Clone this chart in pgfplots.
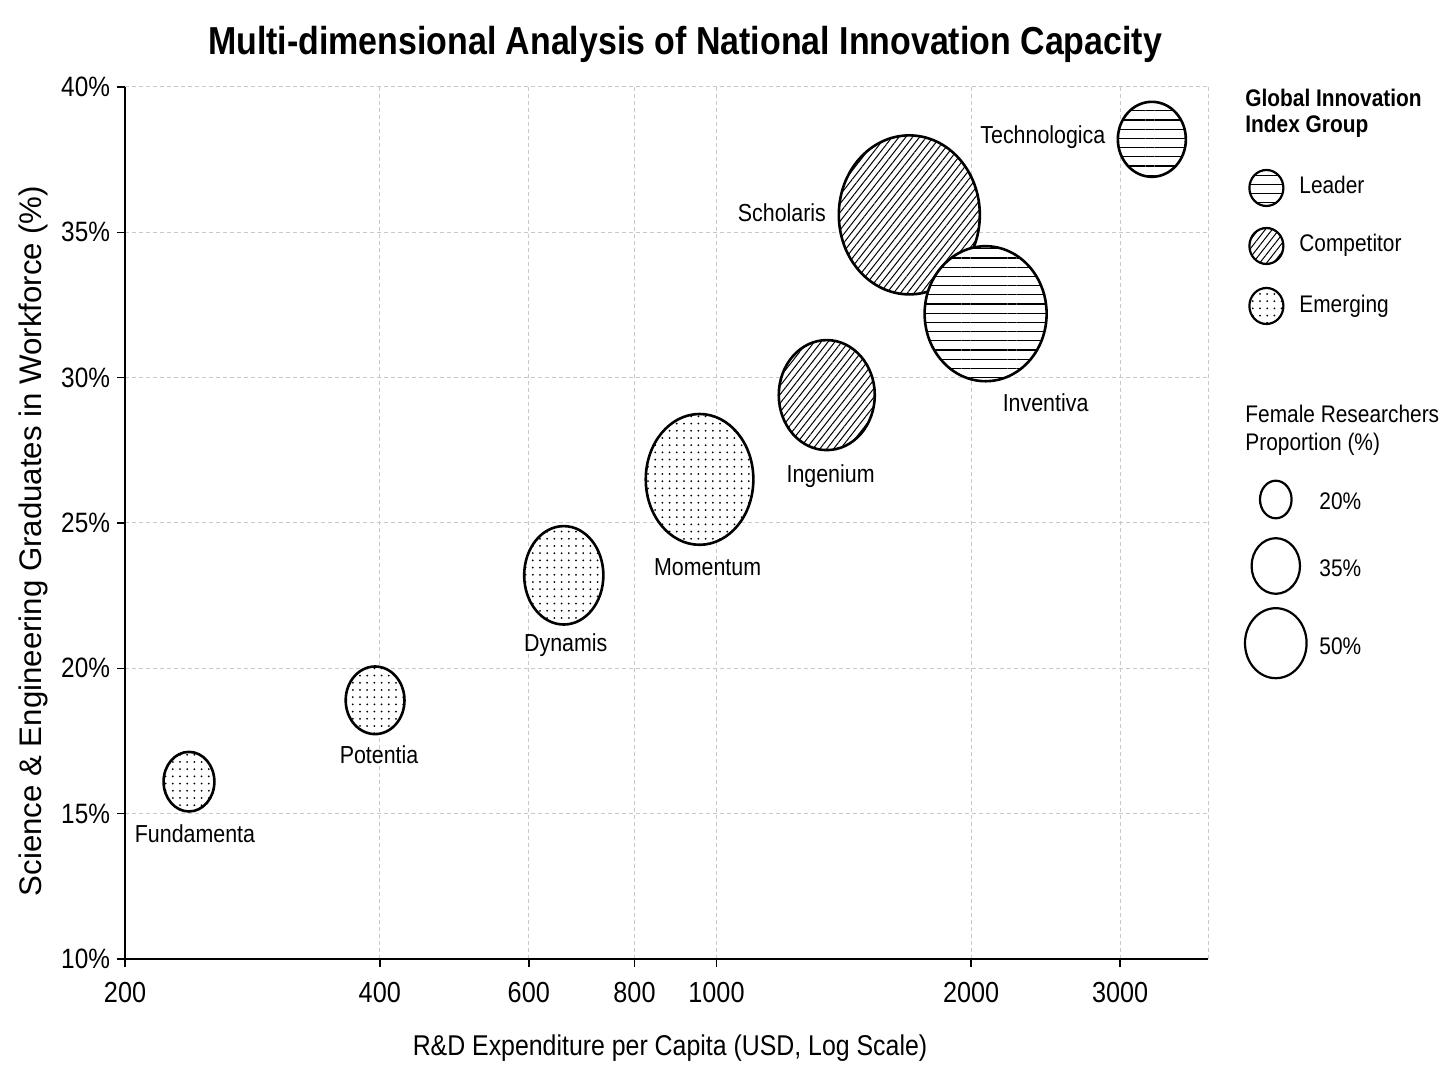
\documentclass[border=0pt]{standalone}
\usepackage{pgfplots}
\pgfplotsset{compat=1.18}
\usepackage{pgfplotstable}
\usetikzlibrary{patterns.meta}
\usepackage{fontspec}
\setmainfont{Liberation Sans}[FakeStretch=0.87]
\newfontfamily\ylabfont{Liberation Sans}
\newcommand\fs[1]{\fontsize{#1}{#1}\selectfont}
\definecolor{gridgray}{RGB}{200,200,200}

% R&D per capita (USD), S&E graduates (%), bubble half-axes (pt)
\pgfplotstableread{
x    y    rx    ry
238  16.1 12.7  14.9
395  18.9 14.7  16.9
660  23.2 19.8  24.6
955  26.5 26.9  32.7
}\emerging
\pgfplotstableread{
x    y    rx    ry
1350 29.4 24.0  27.5
1690 35.6 35.25 39.75
}\competitor
\pgfplotstableread{
x    y    rx    ry
2080 32.2 30.5  33.75
3270 38.2 17.0  18.75
}\leader

\tikzset{
  patL/.style={pattern={Lines[angle=0,distance=4.6pt,line width=0.65pt]},pattern color=black},
  patC/.style={pattern={Lines[angle=52,distance=2.7pt,line width=0.5pt]},pattern color=black},
  patE/.style={pattern={Dots[distance=3.6pt,radius=0.5pt]},pattern color=black},
  bub/.style={draw=black,line width=1.3pt},
  lab/.style={font=\fs{12.3},inner sep=0pt},
}
\pgfdeclareplotmark{bubL}{%
  \path[fill=white] (0pt,0pt) ellipse [x radius=\rx pt, y radius=\ry pt];
  \path[bub,patL] (0pt,0pt) ellipse [x radius=\rx pt, y radius=\ry pt];}
\pgfdeclareplotmark{bubC}{%
  \path[fill=white] (0pt,0pt) ellipse [x radius=\rx pt, y radius=\ry pt];
  \path[bub,patC] (0pt,0pt) ellipse [x radius=\rx pt, y radius=\ry pt];}
\pgfdeclareplotmark{bubE}{%
  \path[fill=white] (0pt,0pt) ellipse [x radius=\rx pt, y radius=\ry pt];
  \path[bub,patE] (0pt,0pt) ellipse [x radius=\rx pt, y radius=\ry pt];}

\begin{document}
\begin{tikzpicture}
\useasboundingbox (-62.5pt,-63.5pt) rectangle (661.5pt,479.5pt);
\begin{axis}[
  scale only axis, width=541.5pt, height=436pt,
  xmode=log, xmin=200, xmax=3810, ymin=10, ymax=40,
  xtick={200,400,600,800,1000,2000,3000},
  xticklabels={200,400,600,800,1000,2000,3000},
  ytick={10,15,20,25,30,35,40},
  yticklabels={10\%,15\%,20\%,25\%,30\%,35\%,40\%},
  extra x ticks={3810}, extra x tick labels={},
  extra x tick style={grid=major, major tick length=0pt},
  xminorticks=false, yminorticks=false,
  axis x line*=bottom, axis y line*=left,
  axis line style={line width=1pt, black, -},
  tick align=outside, major tick length=4pt,
  every tick/.style={black, line width=0.8pt},
  grid=major,
  major grid style={gridgray, line width=0.5pt, dash pattern=on 2pt off 1.5pt},
  x tick label style={font=\fs{14.5}, yshift=-4pt},
  y tick label style={font=\fs{14}},
  /pgf/number format/assume math mode=true,
  clip=false,
  scatter/use mapped color={draw=black,fill=white},
]
\addplot[scatter, only marks, mark=bubE,
  visualization depends on={\thisrow{rx}\as\rx},
  visualization depends on={\thisrow{ry}\as\ry}] table[x=x,y=y] {\emerging};
\addplot[scatter, only marks, mark=bubC,
  visualization depends on={\thisrow{rx}\as\rx},
  visualization depends on={\thisrow{ry}\as\ry}] table[x=x,y=y] {\competitor};
\addplot[scatter, only marks, mark=bubL,
  visualization depends on={\thisrow{rx}\as\rx},
  visualization depends on={\thisrow{ry}\as\ry}] table[x=x,y=y] {\leader};

\node[lab,anchor=base,xshift=3pt,yshift=-30.4pt] at (axis cs:238,16.1) {Fundamenta};
\node[lab,anchor=base,xshift=2pt,yshift=-31.6pt] at (axis cs:395,18.9) {Potentia};
\node[lab,anchor=base,xshift=1pt,yshift=-37.9pt] at (axis cs:660,23.2) {Dynamis};
\node[lab,anchor=base,xshift=4pt,yshift=-48.2pt] at (axis cs:955,26.5) {Momentum};
\node[lab,anchor=base,xshift=1.9pt,yshift=-43.5pt] at (axis cs:1350,29.4) {Ingenium};
\node[lab,anchor=base,xshift=-63.7pt,yshift=-3.1pt] at (axis cs:1690,35.6) {Scholaris};
\node[lab,anchor=base,xshift=30pt,yshift=-49.1pt] at (axis cs:2080,32.2) {Inventiva};
\node[lab,anchor=base,xshift=-54.5pt,yshift=-2pt] at (axis cs:3270,38.2) {Technologica};
\end{axis}

% titles
\node[font=\bfseries\fs{19.5},anchor=base,inner sep=0pt] at (280pt,452pt) {Multi-dimensional Analysis of National Innovation Capacity};
\node[font=\fs{14.3},anchor=base,inner sep=0pt] at (272.5pt,-48.5pt) {R\&D Expenditure per Capita (USD, Log Scale)};
\node[font=\ylabfont\fs{15.6},anchor=base,inner sep=0pt,rotate=90] at (-41.6pt,209pt) {Science \& Engineering Graduates in Workforce (\%)};

% legend: groups
\node[font=\bfseries\fs{12},anchor=base west,inner sep=0pt] at (560pt,426pt) {Global Innovation};
\node[font=\bfseries\fs{12},anchor=base west,inner sep=0pt] at (560pt,413pt) {Index Group};
\path[fill=white] (570.7pt,385.5pt) ellipse [x radius=8.5pt,y radius=9pt];
\path[bub,line width=1.1pt,patL] (570.7pt,385.5pt) ellipse [x radius=8.5pt,y radius=9pt];
\node[font=\fs{12},anchor=base west,inner sep=0pt] at (587pt,382.5pt) {Leader};
\path[fill=white] (570.7pt,356.5pt) ellipse [x radius=8.5pt,y radius=9pt];
\path[bub,line width=1.1pt,patC] (570.7pt,356.5pt) ellipse [x radius=8.5pt,y radius=9pt];
\node[font=\fs{12},anchor=base west,inner sep=0pt] at (587pt,353.5pt) {Competitor};
\path[fill=white] (570.7pt,326.5pt) ellipse [x radius=8.5pt,y radius=9pt];
\path[bub,line width=1.1pt,patE] (570.7pt,326.5pt) ellipse [x radius=8.5pt,y radius=9pt];
\node[font=\fs{12},anchor=base west,inner sep=0pt] at (587pt,323pt) {Emerging};

% legend: sizes
\node[font=\fs{12},anchor=base west,inner sep=0pt] at (560pt,268pt) {Female Researchers};
\node[font=\fs{12},anchor=base west,inner sep=0pt] at (560pt,254pt) {Proportion (\%)};
\draw[line width=1.1pt] (575.4pt,229.75pt) ellipse [x radius=7.9pt,y radius=9.4pt];
\node[font=\fs{12},anchor=base west,inner sep=0pt] at (597pt,224.5pt) {20\%};
\draw[line width=1.1pt] (575.4pt,196.5pt) ellipse [x radius=12.1pt,y radius=13.9pt];
\node[font=\fs{12},anchor=base west,inner sep=0pt] at (597pt,191pt) {35\%};
\draw[line width=1.1pt] (575.4pt,157.9pt) ellipse [x radius=15.4pt,y radius=17.5pt];
\node[font=\fs{12},anchor=base west,inner sep=0pt] at (597pt,152pt) {50\%};
\end{tikzpicture}
\end{document}
